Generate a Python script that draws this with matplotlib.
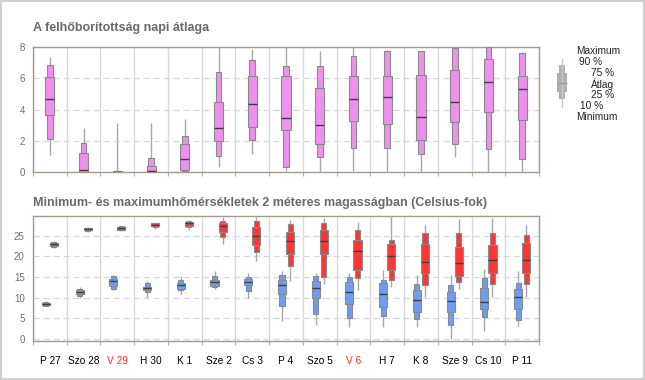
import matplotlib
matplotlib.use("Agg")
import matplotlib.pyplot as plt
from matplotlib.patches import Rectangle

plt.rcParams["font.family"] = ["Liberation Sans", "DejaVu Sans"]

days = ["P 27", "Szo 28", "V 29", "H 30", "K 1", "Sze 2", "Cs 3", "P 4",
        "Szo 5", "V 6", "H 7", "K 8", "Sze 9", "Cs 10", "P 11"]
sundays = ["V 29", "V 6"]

# cloud cover (daily mean)
cloud_min = [1.1, 0.0, 0.0, 0.0, 0.0, 0.3, 1.15, 0.05, 0.0, 0.1, 0.1, 0.0, 1.0, 0.0, 0.0]
cloud_p10 = [2.1, 0.0, 0.0, 0.0, 0.08, 1.04, 2.05, 0.3, 1.0, 1.54, 1.54, 1.13, 1.79, 1.47, 0.87]
cloud_p25 = [3.67, 0.0, 0.0, 0.0, 0.15, 1.98, 2.92, 2.71, 1.77, 3.26, 3.07, 2.05, 3.2, 3.84, 3.33]
cloud_mean = [4.67, 0.12, 0.02, 0.06, 0.83, 2.84, 4.35, 3.48, 3.03, 4.67, 4.8, 3.52, 4.5, 5.78, 5.31]
cloud_p75 = [6.08, 1.22, 0.05, 0.4, 1.79, 4.52, 6.14, 6.14, 5.37, 6.14, 6.14, 6.2, 6.52, 7.23, 6.14]
cloud_p90 = [6.87, 1.85, 0.06, 0.92, 2.32, 6.42, 7.16, 6.8, 6.8, 7.46, 7.78, 7.78, 7.93, 8.0, 7.61]
cloud_max = [7.36, 2.81, 3.13, 3.13, 3.41, 8.0, 7.89, 8.0, 7.76, 8.0, 7.8, 7.78, 8.0, 8.0, 7.68]

# minimum temperatures (blue)
tmin_min = [7.9, 10.0, 11.9, 10.0, 11.0, 12.0, 10.0, 4.4, 3.5, 3.0, 3.0, 3.0, 0.0, 2.0, 3.1]
tmin_p10 = [8.1, 10.5, 12.1, 11.4, 11.9, 12.6, 11.7, 8.1, 6.1, 5.0, 5.5, 4.9, 3.5, 5.4, 4.7]
tmin_p25 = [8.2, 10.8, 12.8, 11.8, 12.1, 12.9, 13.1, 11.0, 10.0, 8.4, 7.7, 6.5, 6.6, 7.2, 7.2]
tmin_mean = [8.5, 11.3, 14.0, 12.3, 13.0, 13.8, 13.9, 13.0, 12.3, 11.3, 10.8, 9.4, 9.2, 8.9, 10.2]
tmin_p75 = [8.8, 11.9, 14.5, 12.7, 13.6, 14.3, 14.6, 14.2, 14.0, 13.8, 13.5, 11.9, 11.3, 12.3, 12.1]
tmin_p90 = [8.9, 12.2, 15.2, 13.5, 14.2, 15.3, 15.1, 15.5, 15.2, 15.0, 14.4, 13.3, 13.1, 14.8, 13.5]
tmin_max = [9.1, 12.6, 15.5, 14.1, 15.2, 16.5, 16.0, 16.5, 15.9, 16.0, 16.7, 15.6, 15.6, 17.0, 16.5]

# maximum temperatures (red)
tmax_min = [22.1, 26.0, 26.1, 26.7, 26.5, 23.0, 18.9, 14.0, 13.2, 11.9, 12.7, 10.2, 12.0, 10.2, 10.1]
tmax_p10 = [22.3, 26.2, 26.3, 27.1, 27.1, 24.7, 21.0, 17.6, 15.1, 14.7, 14.4, 13.0, 13.8, 13.3, 13.2]
tmax_p25 = [22.5, 26.3, 26.4, 27.3, 27.3, 25.9, 22.7, 20.7, 20.5, 16.6, 16.6, 15.9, 15.2, 16.0, 16.0]
tmax_mean = [22.9, 26.6, 26.9, 27.7, 28.0, 27.4, 25.0, 23.7, 23.7, 21.2, 20.0, 18.6, 18.4, 19.1, 19.1]
tmax_p75 = [23.2, 26.9, 27.2, 28.0, 28.3, 28.2, 27.2, 26.0, 26.4, 24.0, 23.1, 23.0, 22.2, 22.7, 23.2]
tmax_p90 = [23.4, 27.0, 27.3, 28.1, 28.6, 28.7, 28.5, 27.8, 28.1, 26.3, 24.1, 25.6, 25.6, 25.7, 25.2]
tmax_max = [23.7, 27.1, 27.4, 28.2, 28.8, 29.6, 29.6, 28.8, 29.2, 28.4, 29.8, 27.7, 29.0, 29.3, 27.7]

# legend glyph: min, p10, p25, mean, p75, p90, max
legend_vals = [0.0, 1.08, 1.92, 3.0, 4.2, 5.16, 6.0]
legend_labels = [("Maximum", 576), ("90 %", 579), ("75 %", 591), ("Átlag", 591),
                 ("25 %", 591), ("10 %", 580), ("Minimum", 576)]

GRID = "#d8d8d8"
SPINE = "#a8998a"
TICK = "#707070"
EDGE = "#8a8a8a"


def draw_boxes(ax, xs, mn, p10, p25, mean, p75, p90, mx, color, wide, thin):
    for x, a, b, c, m, d, e, f in zip(xs, mn, p10, p25, mean, p75, p90, mx):
        ax.vlines(x, a, f, color="#a8a8a8", lw=1.0, zorder=3)
        ax.bar(x, e - b, bottom=b, width=thin, color=color, edgecolor=EDGE,
               lw=0.8, zorder=4)
        ax.bar(x, d - c, bottom=c, width=wide, color=color, edgecolor=EDGE,
               lw=0.8, zorder=5)
        ax.hlines(m, x - wide / 2, x + wide / 2, color="#404040", lw=1.0, zorder=6)


def style_axes(ax, yticks, n):
    ax.set_xlim(0, n)
    ax.set_xticks(range(n + 1))
    ax.set_xticklabels([])
    ax.tick_params(axis="x", which="major", length=3, color="#b0b0b0", direction="out")
    ax.set_yticks(yticks)
    ax.tick_params(axis="y", length=0, labelsize=7, labelcolor=TICK, pad=6)
    for s in ax.spines.values():
        s.set_color(SPINE)
        s.set_linewidth(1.0)
    ax.grid(axis="x", color=GRID, lw=1.0, ls="-", zorder=0)
    ax.grid(axis="y", color=GRID, lw=0.9, ls=(0, (5, 3)), zorder=0)
    ax.set_axisbelow(True)


fig = plt.figure(figsize=(6.45, 3.8), dpi=100)
fig.patches.append(Rectangle((0.002, 0.003), 0.996, 0.994, transform=fig.transFigure,
                             fill=False, edgecolor="#cfcfcf", lw=1.5))

n = len(days)
centers = [i + 0.5 for i in range(n)]

# top panel: cloud cover
ax1 = fig.add_axes([0.0512, 0.547, 0.7845, 0.329])
draw_boxes(ax1, centers, cloud_min, cloud_p10, cloud_p25, cloud_mean,
           cloud_p75, cloud_p90, cloud_max, "#ee90ee", 0.27, 0.17)
ax1.set_ylim(0, 8)
style_axes(ax1, [0, 2, 4, 6, 8], n)
fig.text(0.0512, 1 - 31 / 380, "A felhőborítottság napi átlaga", fontsize=9,
         fontweight="bold", color="#6a6a6a", va="baseline")

# bottom panel: temperatures
ax2 = fig.add_axes([0.0512, 0.1026, 0.7845, 0.329])
blue_x = [c - 0.12 for c in centers]
red_x = [c + 0.12 for c in centers]
draw_boxes(ax2, blue_x, tmin_min, tmin_p10, tmin_p25, tmin_mean,
           tmin_p75, tmin_p90, tmin_max, "#6f9cf0", 0.24, 0.15)
draw_boxes(ax2, red_x, tmax_min, tmax_p10, tmax_p25, tmax_mean,
           tmax_p75, tmax_p90, tmax_max, "#ff3535", 0.24, 0.15)
ax2.set_ylim(-0.5, 29.8)
style_axes(ax2, [0, 5, 10, 15, 20, 25], n)
ax2.set_xticks(centers, minor=True)
ax2.set_xticklabels(days, minor=True)
ax2.tick_params(axis="x", which="minor", length=0, labelsize=7.3, pad=11)
for lbl in ax2.get_xticklabels(minor=True):
    if lbl.get_text() in sundays:
        lbl.set_color("#ff2a2a")
fig.text(0.0512, 1 - 206 / 380,
         "Minimum- és maximumhőmérsékletek 2 méteres magasságban (Celsius-fok)",
         fontsize=9, fontweight="bold", color="#6a6a6a", va="baseline")

# legend glyph
axl = fig.add_axes([0.8555, 0.716, 0.031, 0.131])
axl.set_xlim(-1, 1)
axl.set_ylim(0, 6)
axl.axis("off")
axl.vlines(0, legend_vals[0], legend_vals[-1], color="#c8c8c8", lw=1.0)
axl.bar(0, legend_vals[5] - legend_vals[1], bottom=legend_vals[1], width=0.55,
        color="#b0b0b0", lw=0)
axl.bar(0, legend_vals[4] - legend_vals[2], bottom=legend_vals[2], width=1.0,
        color="#b0b0b0", lw=0)
axl.hlines(legend_vals[3], -0.48, 0.48, color="#9a9a9a", lw=0.8)

for k, (txt, px) in enumerate(legend_labels):
    fig.text(px / 645, 1 - (51 + k * 10.95) / 380, txt, fontsize=7.3, color="#222222",
             va="center", ha="left")

fig.savefig("out.png", dpi=100)
